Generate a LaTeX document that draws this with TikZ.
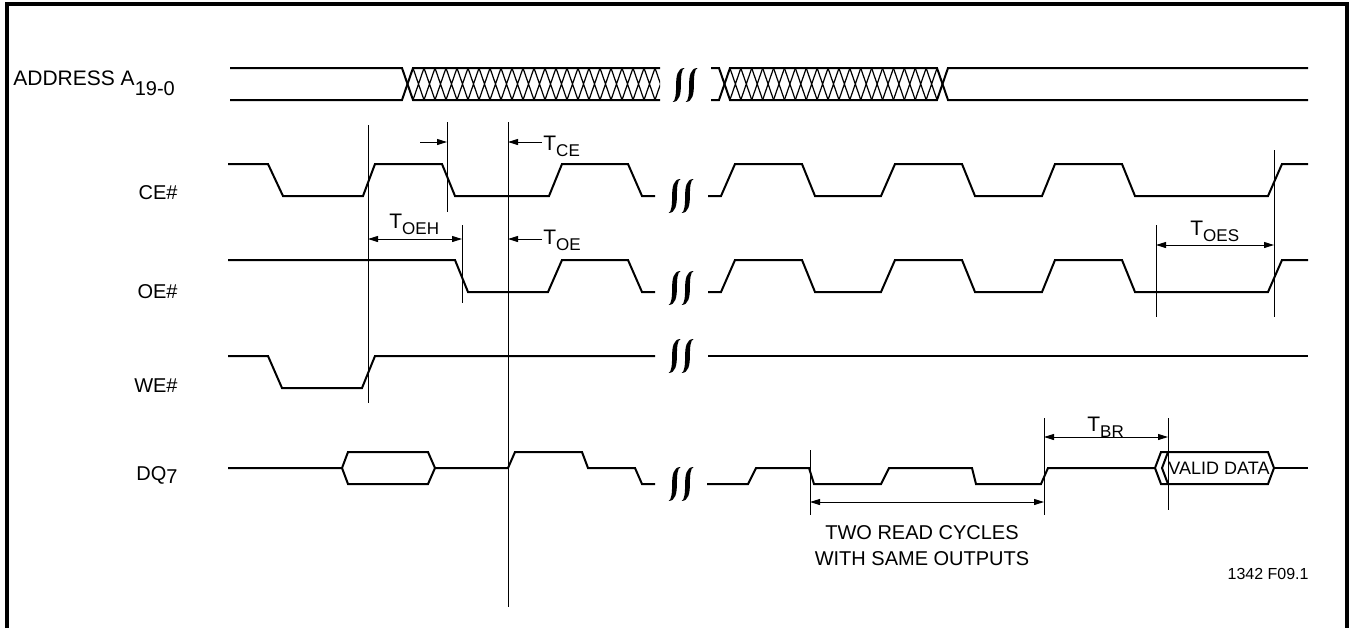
\documentclass[tikz,border=0pt]{standalone}
\usepackage{fontspec}
\setmainfont{Liberation Sans}
\usetikzlibrary{arrows.meta}
\newcommand{\tsub}[1]{\raisebox{-3pt}{\fontsize{8.5}{9}\selectfont #1}}
\newcommand{\lsub}[1]{\raisebox{-5pt}{\fontsize{10}{11}\selectfont #1}}
\newcommand{\dsub}[1]{\raisebox{-1.5pt}{\fontsize{10}{11}\selectfont #1}}
\tikzset{
  brk/.pic={
    \foreach \dx in {-6.5,6.5}{
      \fill[shift={(\dx,0)}] (6,-17) .. controls (-1,-17) and (-2.4,-9) .. (-2.4,0)
        .. controls (-2.4,9) and (-3,16) .. (-6,17)
        .. controls (1,17) and (2.4,9) .. (2.4,0)
        .. controls (2.4,-9) and (3,-16) .. (6,-17) -- cycle;
    }
  }
}
\begin{document}
\begin{tikzpicture}[x=0.5pt,y=-0.5pt,
  sig/.style={line width=1pt, line join=miter},
  thinl/.style={line width=0.5pt},
  hatch/.style={line width=0.6pt},
  dimarr/.style={line width=0.5pt, {Triangle[length=5pt,width=3pt]}-{Triangle[length=5pt,width=3pt]}},
  onearr/.style={line width=0.5pt, -{Triangle[length=5pt,width=3pt]}},
  lbl/.style={font=\fontsize{10}{12}\selectfont, inner sep=0pt},
  tlbl/.style={font=\fontsize{10.5}{12}\selectfont, inner sep=0pt, anchor=base west}
]
\useasboundingbox (0,0) rectangle (1351,628);
% frame
\draw[line width=1.8pt] (7,628) -- (7,4) -- (1347,4) -- (1347,628);

% ---------------- labels
\node[lbl, anchor=base west, font=\fontsize{10.5}{12}\selectfont] (laddr) at (13,85) {ADDRESS A\lsub{19-0}};
\node[lbl, anchor=base east] (lce) at (178,199) {CE\#};
\node[lbl, anchor=base east] (loe) at (178,298) {OE\#};
\node[lbl, anchor=base east] (lwe) at (178,392) {WE\#};
\node[lbl, anchor=base east] (ldq) at (178,480) {DQ\dsub{7}};

% ---------------- ADDRESS
\draw[sig] (230,68) -- (402,68) -- (413,100) -- (660,100);
\draw[sig] (230,100) -- (402,100) -- (413,68) -- (660,68);
\begin{scope}
  \clip (413,60) rectangle (660,108);
  \foreach \j in {1,...,23}
    \draw[hatch] (402+11*\j,68) -- (413+11*\j,100) (402+11*\j,100) -- (413+11*\j,68);
\end{scope}
\draw[sig] (711,68) -- (719,68) -- (730,100) -- (937,100) -- (948,68) -- (1308,68);
\draw[sig] (711,100) -- (719,100) -- (730,68) -- (937,68) -- (948,100) -- (1308,100);
\begin{scope}
  \clip (730,60) rectangle (937,108);
  \foreach \j in {1,...,19}
    \draw[hatch] (719+10.9*\j,68) -- (730+10.9*\j,100) (719+10.9*\j,100) -- (730+10.9*\j,68);
\end{scope}
\pic at (685,85) {brk};

% ---------------- CE#
\draw[sig] (228,164) -- (268,164) -- (283,196) -- (363,196) -- (375,164) -- (442,164) -- (455,196) -- (549,196) -- (562,164) -- (628,164) -- (642,196) -- (655,196);
\draw[sig] (708,196) -- (721,196) -- (735,164) -- (802,164) -- (815,196) -- (881,196) -- (895,164) -- (962,164) -- (975,196) -- (1042,196) -- (1055,164) -- (1122,164) -- (1135,196) -- (1268,196) -- (1282,164) -- (1308,164);
\pic at (681,196) {brk};

% ---------------- OE#
\draw[sig] (228,260) -- (455,260) -- (468,292) -- (548,292) -- (562,260) -- (628,260) -- (642,292) -- (655,292);
\draw[sig] (708,292) -- (721,292) -- (735,260) -- (802,260) -- (815,292) -- (881,292) -- (895,260) -- (962,260) -- (975,292) -- (1042,292) -- (1055,260) -- (1122,260) -- (1135,292) -- (1268,292) -- (1282,260) -- (1308,260);
\pic at (681,288) {brk};

% ---------------- WE#
\draw[sig] (228,356) -- (268,356) -- (282,388) -- (362,388) -- (375,356) -- (655,356);
\draw[sig] (708,356) -- (1308,356);
\pic at (681,356) {brk};

% ---------------- DQ7
\draw[sig] (228,468) -- (342,468) -- (348,452) -- (428,452) -- (435,468) -- (508,468) -- (515,452) -- (582,452) -- (588,468) -- (635,468) -- (642,484) -- (655,484);
\draw[sig] (342,468) -- (348,484) -- (428,484) -- (435,468);
\draw[sig] (707,484) -- (748,484) -- (756,468) -- (809,468) -- (814,484) -- (881,484) -- (889,468) -- (972,468) -- (976,484) -- (1041,484) -- (1048,468) -- (1155,468);
\draw[sig] (1155,468) -- (1161,452) -- (1268,452) -- (1274,468) -- (1268,484) -- (1161,484) -- cycle;
\draw[sig] (1168,452) -- (1162,468) -- (1168,484);
\draw[sig] (1274,468) -- (1308,468);
\node[inner sep=0pt, font=\fontsize{9}{10}\selectfont] (valid) at (1219,468) {VALID DATA};
\pic at (681,484) {brk};

% ---------------- timing lines
\draw[thinl] (368,125) -- (368,403);
\draw[thinl] (447,122) -- (447,212);
\draw[thinl] (508,122) -- (508,607);
\draw[thinl] (462,225) -- (462,303);
\draw[thinl] (1156,225) -- (1156,317);
\draw[thinl] (1274,150) -- (1274,317);
\draw[thinl] (810,450) -- (810,515);
\draw[thinl] (1044,418) -- (1044,515);
\draw[thinl] (1168,418) -- (1168,510);

% ---------------- arrows and timing labels
\draw[onearr] (420,142) -- (447,142);
\draw[onearr] (542,142) -- (508,142);
\node[tlbl] (tce) at (543,150) {T\tsub{CE}};
\draw[dimarr] (368,239) -- (462,239);
\node[tlbl] (toeh) at (389,228) {T\tsub{OEH}};
\draw[onearr] (542,239) -- (508,239);
\node[tlbl] (toe) at (543,244) {T\tsub{OE}};
\draw[dimarr] (1156,245) -- (1274,245);
\node[tlbl] (toes) at (1190,235) {T\tsub{OES}};
\draw[dimarr] (1044,437) -- (1168,437);
\node[tlbl] (tbr) at (1087,431) {T\tsub{BR}};
\draw[dimarr] (810,502) -- (1044,502);
\node[lbl, anchor=base] (two) at (922,539) {TWO READ CYCLES};
\node[lbl, anchor=base] (same) at (922,565) {WITH SAME OUTPUTS};
\node[inner sep=0pt, anchor=base east, font=\fontsize{8}{9}\selectfont] (fig) at (1309,579) {1342 F09.1};
\end{tikzpicture}
\end{document}
